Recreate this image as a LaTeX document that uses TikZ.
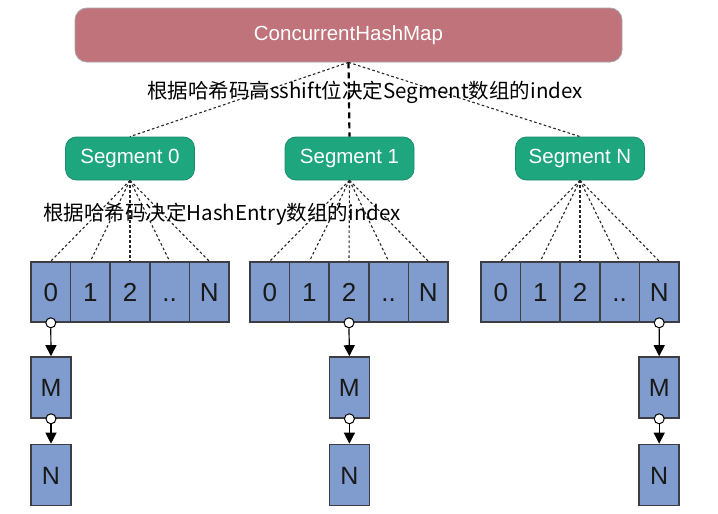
\documentclass[tikz,border=0pt]{standalone}
\usepackage{fontspec}
\setmainfont{Liberation Sans}
\newfontfamily\cjk{Noto Sans CJK SC}
\usetikzlibrary{arrows.meta}
\definecolor{mapred}{RGB}{192,115,122}
\definecolor{seggreen}{RGB}{30,166,127}
\definecolor{cellblue}{RGB}{128,156,206}
\definecolor{celledge}{RGB}{60,62,68}
\begin{document}
\begin{tikzpicture}[x=1pt,y=-1pt,
  mapbox/.style={draw=black!35, line width=0.8pt, fill=mapred, rounded corners=12pt,
    minimum width=547pt, minimum height=54pt, text=white, inner sep=0pt,
    font=\fontsize{20.5}{20.5}\selectfont},
  segbox/.style={draw=seggreen!85!black, line width=0.8pt, fill=seggreen, rounded corners=11pt,
    minimum width=129pt, minimum height=43pt, text=white, inner sep=0pt,
    font=\fontsize{20.5}{20.5}\selectfont},
  cellbox/.style={draw=celledge, line width=1.6pt, fill=cellblue,
    minimum width=39.6pt, minimum height=60pt, inner sep=0pt, text=black!90,
    text height=18.5pt, text depth=0pt,
    font=\fontsize{26}{26}\selectfont},
  entrybox/.style={draw=celledge, line width=1.6pt, fill=cellblue,
    minimum width=40pt, minimum height=61pt, inner sep=0pt, text=black!90,
    text height=18pt, text depth=0pt,
    font=\fontsize{25}{25}\selectfont},
  lbl/.style={font=\cjk\fontsize{20.5}{20.5}\selectfont, inner sep=0pt, text=black},
  dotline/.style={line width=1.1pt, dash pattern=on 2.6pt off 2.4pt, black!85},
  midline/.style={line width=2.2pt, dash pattern=on 6pt off 4pt, black},
  ring/.style={circle, draw=black, line width=1pt, fill=white, minimum size=10pt, inner sep=0pt},
  link/.style={line width=1.2pt, -{Triangle[width=11pt,length=11pt]}},
]
\useasboundingbox (0,0) rectangle (718,514);
\fill[white] (0,0) rectangle (718,514);

\node[mapbox] (map) at (348.5,35) {ConcurrentHashMap};

\node[segbox] (s0) at (130,158.5) {Segment 0};
\node[segbox] (s1) at (349.5,158.5) {Segment 1};
\node[segbox] (sN) at (580,158.5) {Segment N};

% connectors map -> segments
\draw[dotline] (map.south) -- (s0.north);
\draw[dotline] (map.south) -- (sN.north);
\draw[midline] (map.south) -- (s1.north);

\node[lbl] (lab1) at (365,92) {根据哈希码高sshift位决定Segment数组的index};

% arrays
\foreach \a/\left in {0/31, 1/250, N/481} {
  \foreach \t [count=\i from 0] in {0,1,2,..,N} {
    \node[cellbox] (c\a-\i) at ({\left+19.8+39.6*\i},292) {\t};
  }
}
\foreach \a in {0,1,N} {
  \foreach \i in {0,...,4} {
    \draw[dotline] (s\a.south) -- (c\a-\i.north);
  }
}

\node[lbl] (lab2) at (222,214) {根据哈希码决定HashEntry数组的index};

% chains
\foreach \a/\i/\x in {0/0/51, 1/2/349.4, N/4/659.2} {
  \node[entrybox] (m\a) at (\x,387.5) {M};
  \node[entrybox] (n\a) at (\x,475) {N};
  \node[ring] (r\a) at (c\a-\i.south) {};
  \node[ring] (q\a) at (m\a.south) {};
  \draw[link] (r\a.south) -- (m\a.north);
  \draw[link] (q\a.south) -- (n\a.north);
}
\end{tikzpicture}
\end{document}
